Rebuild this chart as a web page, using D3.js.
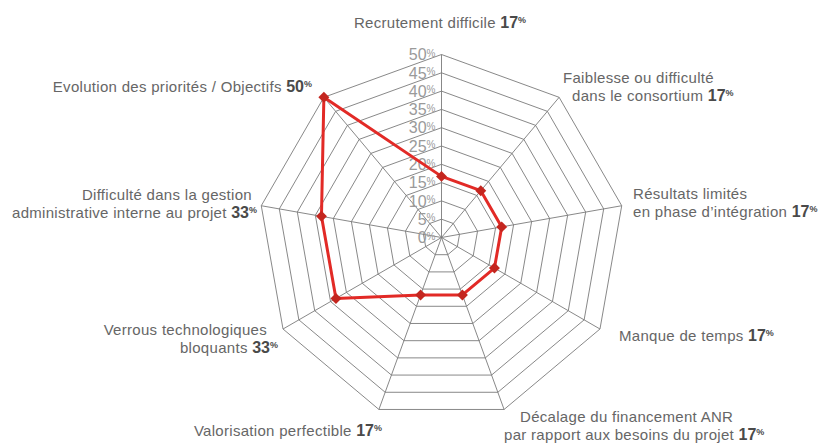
<!DOCTYPE html>
<html>
<head>
<meta charset="utf-8">
<script src="https://cdn.jsdelivr.net/npm/d3@7"></script>
<style>
  body { margin: 0; background: #fff; }
  svg { display: block; font-family: "Liberation Sans", Arial, sans-serif; }
</style>
</head>
<body>
<svg width="821" height="444"></svg>
<script>
// axis categories (clockwise from top), each label split in lines
const categories = [
    ['Recrutement difficile'],
    ['Faiblesse ou difficulté', 'dans le consortium'],
    ['Résultats limités', 'en phase d\u2019intégration'],
    ['Manque de temps'],
    ['Décalage du financement ANR', 'par rapport aux besoins du projet'],
    ['Valorisation perfectible'],
    ['Verrous technologiques', 'bloquants'],
    ['Difficulté dans la gestion', 'administrative interne au projet'],
    ['Evolution des priorités / Objectifs']
]
const values = [16.7, 16.7, 16.7, 16.7, 16.7, 16.7, 33.3, 33.3, 50]
const ticks = [0, 5, 10, 15, 20, 25, 30, 35, 40, 45, 50]

// label placement: x of each line, baseline y of first line, anchor
const labelPos = [
    [[440], 28, 'middle'],
    [[563, 572], 83, 'start'],
    [[633, 633], 199, 'start'],
    [[619], 341, 'start'],
    [[520, 504], 422, 'start'],
    [[382], 436, 'end'],
    [[267, 278], 335, 'end'],
    [[252, 257], 200, 'end'],
    [[312], 92, 'end']
]

const svg = d3.select('svg')
const cx = 441.5, cy = 237.5, R = 183

const r = d3.scaleLinear().domain([0, 50]).range([0, R])
const angle = i => i * 2 * Math.PI / categories.length
const px = (i, v) => cx + r(v) * Math.sin(angle(i))
const py = (i, v) => cy - r(v) * Math.cos(angle(i))

const grid = svg.append('g')
    .attr('fill', 'none')
    .attr('stroke', '#7a7a7a')
    .attr('stroke-width', 0.9)

grid.selectAll('.ring')
    .data(ticks.filter(t => t > 0))
    .enter().append('path')
        .attr('class', 'ring')
        .attr('d', t => d3.line()(categories.map((c, i) => [px(i, t), py(i, t)])) + 'Z')

grid.selectAll('.spoke')
    .data(categories)
    .enter().append('line')
        .attr('class', 'spoke')
        .attr('x1', cx).attr('y1', cy)
        .attr('x2', (d, i) => px(i, 50))
        .attr('y2', (d, i) => py(i, 50))

// tick labels on the vertical axis
const tl = svg.append('g')
    .selectAll('text')
    .data(ticks)
    .enter().append('text')
        .attr('x', cx - 6)
        .attr('y', d => cy - r(d))
        .attr('dy', '0.36em')
        .attr('text-anchor', 'end')
        .attr('fill', '#9a9a9a')
        .attr('font-size', 16)
tl.append('tspan').text(d => d)
tl.append('tspan').text('%').attr('font-size', 10).attr('dy', '-0.35em')

// data line
svg.append('path')
    .datum(values)
    .attr('d', d => d3.line()(d.map((v, i) => [px(i, v), py(i, v)])) + 'Z')
    .attr('fill', 'none')
    .attr('stroke', '#e22a26')
    .attr('stroke-width', 3)
    .attr('stroke-linejoin', 'round')

svg.append('g')
    .selectAll('path')
    .data(values)
    .enter().append('path')
        .attr('d', d3.symbol(d3.symbolSquare, 60))
        .attr('transform', (v, i) => `translate(${px(i, v)},${py(i, v)}) rotate(45)`)
        .attr('fill', '#c4261f')

// category labels, one text per line
svg.append('g')
    .selectAll('g')
    .data(categories)
    .enter().append('g')
    .each(function (lines, i) {
        const [xs, y, anchor] = labelPos[i]
        lines.forEach((line, j) => {
            const t = d3.select(this).append('text')
                .attr('x', xs[j])
                .attr('y', y + j * 18)
                .attr('text-anchor', anchor)
                .attr('font-size', 15)
                .attr('letter-spacing', 0.3)
                .attr('fill', '#666')
            if (j < lines.length - 1) { t.text(line); return }
            t.append('tspan').text(line + ' ')
            t.append('tspan').text(Math.round(values[i]))
                .attr('font-weight', 'bold').attr('fill', '#4a4a4a')
                .attr('font-size', 16).attr('letter-spacing', 0)
            t.append('tspan').text('%')
                .attr('font-weight', 'bold').attr('fill', '#4a4a4a').attr('letter-spacing', 0)
                .attr('font-size', 9).attr('dy', '-0.55em')
        })
    })
</script>
</body>
</html>
